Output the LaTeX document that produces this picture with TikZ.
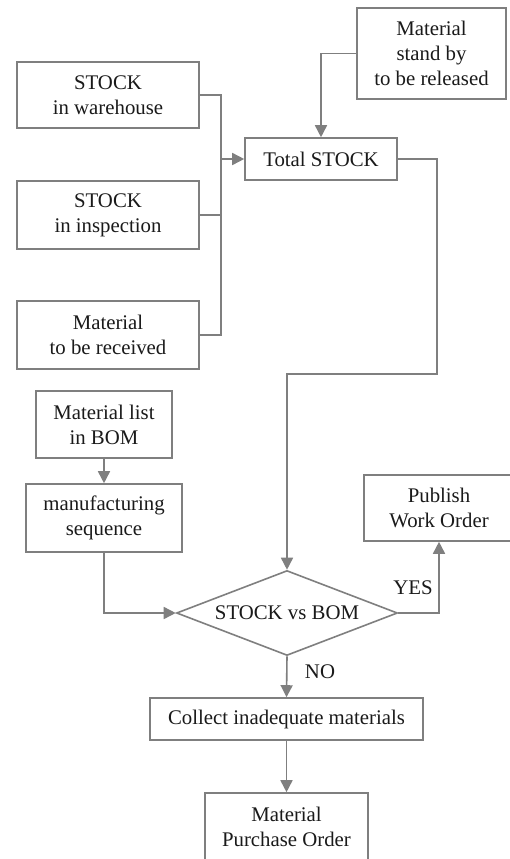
\documentclass[tikz,border=0pt]{standalone}
\usepackage{fontspec}
\setmainfont{Liberation Serif}
\usetikzlibrary{arrows.meta,shapes.geometric}
\definecolor{lc}{HTML}{7F7F7F}
\definecolor{tc}{HTML}{1A1A1A}
\begin{document}
\begin{tikzpicture}[x=1pt,y=-1pt,
  box/.style={draw=lc,line width=1.6pt,fill=white,inner sep=0pt,align=center,text=tc,
    font=\fontsize{20.8}{25}\selectfont},
  dia/.style={diamond,draw=lc,line width=1.6pt,inner sep=0pt,aspect=2.6,text=tc,
    font=\fontsize{20.8}{25}\selectfont},
  conn/.style={draw=lc,line width=1.6pt},
  arr/.style={conn,-{Triangle[length=12pt,width=12pt]}},
  lbl/.style={text=tc,font=\fontsize{20.8}{25}\selectfont,inner sep=0pt}]
\useasboundingbox[fill=white] (0,0) rectangle (510,859);
\node[box,minimum width=149pt,minimum height=91pt] (standby) at (431.5,53.5) {Material\\stand by\\to be released};
\node[box,minimum width=182pt,minimum height=66pt] (warehouse) at (108,95) {STOCK\\in warehouse};
\node[box,minimum width=182pt,minimum height=68pt] (inspection) at (108,215) {STOCK\\in inspection};
\node[box,minimum width=182pt,minimum height=68pt] (received) at (108,335) {Material\\to be received};
\node[box,minimum width=152pt,minimum height=42pt] (total) at (321,159) {Total STOCK};
\node[box,minimum width=136pt,minimum height=67pt] (bomlist) at (104,424.5) {Material list\\in BOM};
\node[box,minimum width=156pt,minimum height=68pt] (mseq) at (104,518) {manufacturing\\sequence};
\node[box,minimum width=150pt,minimum height=66pt] (publish) at (439,508) {Publish\\Work Order};
\node[dia,minimum width=221pt,minimum height=85pt] (cmp) at (287,613) {STOCK vs BOM};
\node[box,minimum width=273pt,minimum height=42pt] (collect) at (286.5,719) {Collect inadequate materials};
\node[box,minimum width=163pt,minimum height=67pt] (purchase) at (286.5,826.5) {Material\\Purchase Order};
\coordinate (bx) at (221,0);
\coordinate (r1) at (437,374);
% merge bus
\draw[conn] (warehouse.east) -- (warehouse.east -| bx) -- (received.east -| bx) -- (received.east);
\draw[conn] (inspection.east) -- (inspection.east -| bx);
\draw[arr] (total.west -| bx) -- (total.west);
\draw[arr] (standby.west) -| (total.north);
\draw[arr] (total.east) -| (r1) -| (cmp.north);
\draw[arr] (bomlist.south) -- (mseq.north);
\draw[arr] (mseq.south) |- (cmp.west);
\draw[arr] (cmp.east) -| (publish.south);
\draw[arr] (cmp.south) -- (collect.north);
\draw[arr] (collect.south) -- (purchase.north);
\node[lbl] (yes) at (413,588) {YES};
\node[lbl] (no) at (320,672) {NO};
\end{tikzpicture}
\end{document}
